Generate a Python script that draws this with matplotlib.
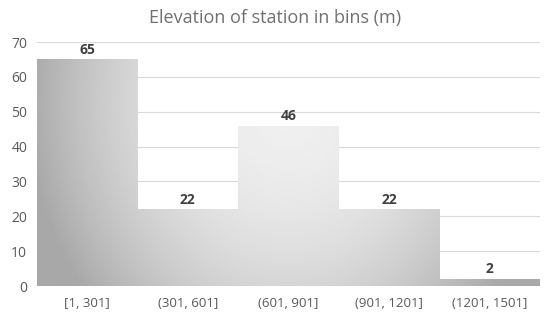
import numpy as np
import matplotlib
matplotlib.use("Agg")
import matplotlib.pyplot as plt
from matplotlib.patches import Rectangle

bins = ["[1, 301]", "(301, 601]", "(601, 901]", "(901, 1201]", "(1201, 1501]"]
counts = [65, 22, 46, 22, 2]
y_max = 70
y_step = 10

plt.rcParams["font.family"] = ["Open Sans", "DejaVu Sans"]

fig = plt.figure(figsize=(5.5, 3.21), dpi=100)
ax = fig.add_axes([0.067, 0.109, 0.915, 0.76])

n = len(bins)
ax.set_xlim(-0.5, n - 0.5)
ax.set_ylim(0, y_max)

# grid
ax.set_yticks(np.arange(0, y_max + 1, y_step))
ax.yaxis.grid(True, color="#d9d9d9", lw=0.8)
ax.set_axisbelow(True)
for s in ax.spines.values():
    s.set_visible(False)
ax.tick_params(length=0, colors="#595959", labelsize=9.5)
ax.tick_params(axis="y", pad=7, labelsize=10)
ax.tick_params(axis="x", pad=8)
ax.set_xticks(range(n))
ax.set_xticklabels(bins)

# gradient shared by all bars (elliptical, light near top centre)
gx, gy = np.meshgrid(np.linspace(0, 1, 400), np.linspace(0, 1, 300))
d2 = ((gx - 0.5) / 0.5) ** 2 + ((gy - 0.75) / 1.2) ** 2
shade = np.clip(0.94 - 0.26 * d2, 0.66, 0.95)

for i, c in enumerate(counts):
    rect = Rectangle((i - 0.5, 0), 1.0, c, facecolor="none", edgecolor="none")
    ax.add_patch(rect)
    im = ax.imshow(shade, cmap="gray", vmin=0, vmax=1, origin="lower",
                   extent=(-0.5, n - 0.5, 0, y_max), aspect="auto", zorder=2,
                   interpolation="bilinear")
    im.set_clip_path(rect)
    ax.text(i, c + 0.8, str(c), ha="center", va="bottom", fontsize=10,
            fontweight="bold", color="#404040", zorder=3)

ax.set_xlim(-0.5, n - 0.5)
ax.set_ylim(0, y_max)

fig.text(0.5, 0.945, "Elevation of station in bins (m)", ha="center", va="center",
         fontsize=13, color="#707070")

fig.savefig("out.png", dpi=100)
